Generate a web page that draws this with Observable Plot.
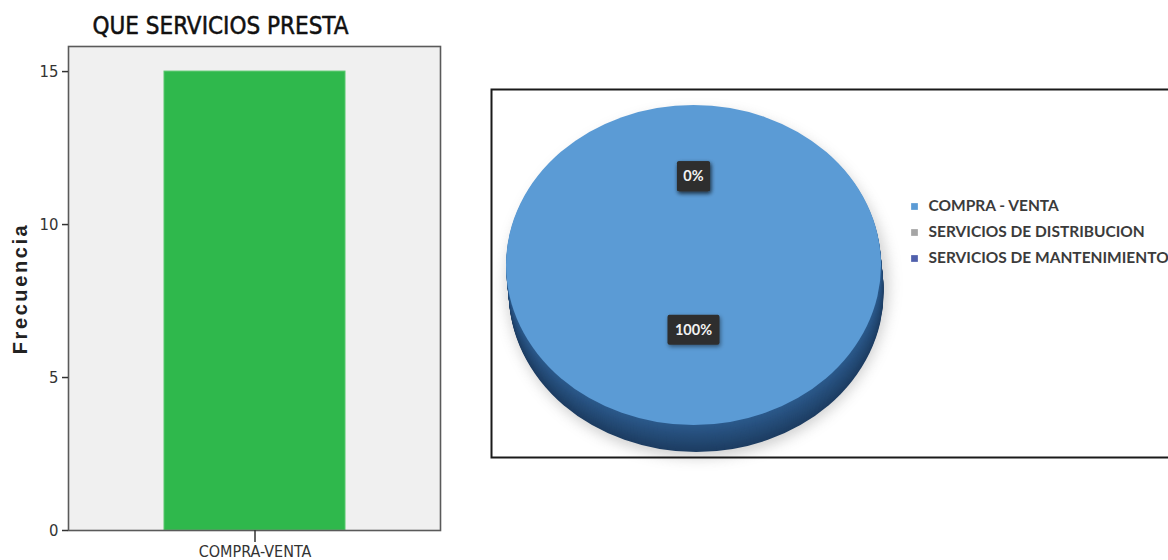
<!DOCTYPE html>
<html>
<head>
<meta charset="utf-8">
<script src="https://cdn.jsdelivr.net/npm/d3@7"></script>
<script src="https://cdn.jsdelivr.net/npm/@observablehq/plot@0.6"></script>
<style>
  html, body { margin: 0; padding: 0; background: #fff; }
  body { width: 1168px; height: 560px; overflow: hidden; position: relative; }
  #bar { position: absolute; left: 0; top: 0; }
  #pie { position: absolute; left: 491px; top: 89px; width: 700px; }
  svg { max-width: none !important; }
</style>
</head>
<body>
<div id="bar"></div>
<div id="pie"></div>
<script>
// ---- data ----
const categories = ["COMPRA-VENTA"];
const frecuencias = [15];
const yTicks = [0, 5, 10, 15];
const chartTitle = "QUE SERVICIOS PRESTA";
const yLabel = "Frecuencia";

const pieCategories = ["COMPRA - VENTA", "SERVICIOS DE DISTRIBUCION", "SERVICIOS DE MANTENIMIENTO"];
const pieValues = [15, 0, 0];
const pieColors = ["#5b9bd5", "#a5a5a5", "#5060ac"];

// ---- bar chart ----
const barData = categories.map((c, i) => ({cat: c, freq: frecuencias[i]}));
const narrow = "'Liberation Sans Narrow', 'DejaVu Sans Condensed', 'Liberation Sans', Arial, sans-serif";

const bar = Plot.plot({
  width: 460,
  height: 560,
  marginLeft: 68,
  marginRight: 20,
  marginTop: 46,
  marginBottom: 30,
  style: {background: "transparent", fontFamily: narrow, fontSize: "16px", color: "#333", overflow: "visible", maxWidth: "none"},
  x: {domain: categories, padding: 0.345},
  y: {domain: [0, 15.82]},
  marks: [
    Plot.frame({fill: "#f0f0f0"}),
    Plot.barY(barData, {x: "cat", y: "freq", fill: "#2fb84c", stroke: "#58c86c", strokeWidth: 1}),
    Plot.frame({stroke: "#5a5a5a", strokeWidth: 1.6}),
    Plot.axisY({ticks: yTicks, tickSize: 6, tickPadding: 4, label: null, stroke: "#333", strokeWidth: 1.5, fontSize: 16.5}),
    Plot.axisX({tickSize: 12, tickPadding: 3, label: null, stroke: "#333", strokeWidth: 1.5, fontSize: 16}),
    Plot.text([chartTitle], {frameAnchor: "top", dx: -34, dy: -20, lineAnchor: "middle", fontSize: 24, fill: "#111",
      stroke: "#111", strokeWidth: 0.5, fontFamily: narrow}),
    Plot.text([yLabel], {frameAnchor: "left", dx: -48, rotate: -90, textAnchor: "middle", fontSize: 20, fontWeight: "bold", fill: "#222",
      fontFamily: "'Liberation Sans', Arial, sans-serif"})
  ]
});
d3.select(bar).selectAll("text").filter(function () { return this.textContent === yLabel; })
  .attr("letter-spacing", "2.6px");
document.getElementById("bar").appendChild(bar);

// ---- pie chart (3D look) ----
const pieData = pieCategories.map((c, i) => ({cat: c, value: pieValues[i]}));
const total = d3.sum(pieValues);

function pieMark(index, scales, values, dimensions) {
  const g = d3.create("svg:g");
  const cx = 202.5, cy = 176, rx = 187.5, ry = 160, depth = 27;
  const arcs = d3.pie().sort(null).value(d => d.value)(pieData);
  const arcGen = d3.arc().innerRadius(0).outerRadius(rx);
  const color = scales.color;
  const defs = g.append("defs");
  const flt = defs.append("filter").attr("id", "pieShadow").attr("x", "-20%").attr("y", "-20%").attr("width", "140%").attr("height", "140%");
  flt.append("feGaussianBlur").attr("stdDeviation", 7);
  const lblF = defs.append("filter").attr("id", "lblShadow").attr("x", "-30%").attr("y", "-30%").attr("width", "160%").attr("height", "160%");
  lblF.append("feDropShadow").attr("dx", 1).attr("dy", 2).attr("stdDeviation", 2).attr("flood-color", "#000").attr("flood-opacity", 0.45);

  const visible = arcs.filter(a => a.endAngle > a.startAngle);
  visible.forEach(a => {
    g.append("path").attr("d", arcGen(a))
      .attr("transform", `translate(${cx + 4},${cy + depth / 2 + 6}) scale(1.02,${(ry + depth / 2) / rx})`)
      .attr("fill", "#7a7a7a").attr("opacity", 0.35).attr("filter", "url(#pieShadow)");
  });
  const shade = d3.interpolateRgb("#1d3d62", "#2c5a8c");
  visible.forEach(a => {
    for (let k = depth; k >= 1; k--) {
      g.append("path").attr("d", arcGen(a))
        .attr("transform", `translate(${cx + k * 0.1},${cy + k}) scale(1,${ry / rx})`)
        .attr("fill", shade(1 - k / depth));
    }
  });
  visible.forEach(a => {
    g.append("path").attr("d", arcGen(a))
      .attr("transform", `translate(${cx},${cy}) scale(1,${ry / rx})`)
      .attr("fill", color(a.data.cat));
  });
  const k = 0.48, lblCy = cy - 12;
  arcs.forEach(a => {
    const mid = (a.startAngle + a.endAngle) / 2;
    const x = cx + Math.sin(mid) * rx * k;
    const y = lblCy - Math.cos(mid) * ry * k;
    const txt = Math.round(a.data.value / total * 100) + "%";
    const w = txt.length * 9.5 + 14;
    g.append("rect").attr("x", x - w / 2).attr("y", y - 15).attr("width", w).attr("height", 30)
      .attr("rx", 2).attr("fill", "#2e2e2e").attr("filter", "url(#lblShadow)");
    g.append("text").attr("x", x).attr("y", y).attr("dy", "0.35em").attr("text-anchor", "middle")
      .attr("fill", "#f2f2f2").attr("font-weight", "bold").attr("font-size", 14.5)
      .attr("font-family", "Lato, 'Open Sans', sans-serif").text(txt);
  });
  return g.node();
}

const pie = Plot.plot({
  width: 700,
  height: 368,
  margin: 0,
  style: {background: "#fff", fontFamily: "Lato, 'Open Sans', sans-serif", overflow: "visible", maxWidth: "none"},
  color: {domain: pieCategories, range: pieColors},
  y: {type: "point", domain: pieCategories, range: [104, 182], axis: null},
  marks: [
    pieMark,
    Plot.dot(pieCategories, {y: d => d, frameAnchor: "left", dx: 423, symbol: "square", r: 3.8, fill: d => d}),
    Plot.text(pieCategories, {y: d => d, frameAnchor: "left", dx: 437, textAnchor: "start", fontSize: 15.5, fontWeight: "bold", fill: "#3b3b3b"}),
    Plot.frame({stroke: "#1a1a1a", strokeWidth: 2})
  ]
});
document.getElementById("pie").appendChild(pie);
</script>
</body>
</html>
